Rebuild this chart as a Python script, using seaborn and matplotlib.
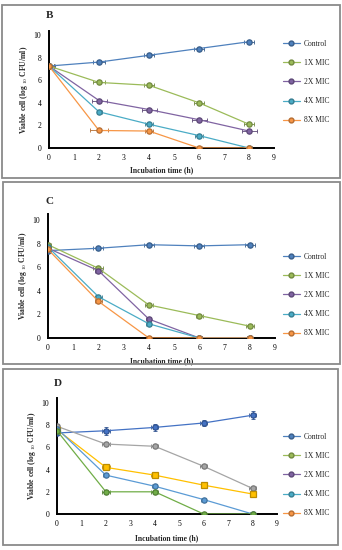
import matplotlib
matplotlib.use("Agg")
import matplotlib.pyplot as plt
import seaborn as sns
from matplotlib.lines import Line2D
from matplotlib.patches import Rectangle

# time points (h)
times = [0, 2, 4, 6, 8]
series_names = ["Control", "1X MIC", "2X MIC", "4X MIC", "8X MIC"]

# panel B
b_control = [7.25, 7.6, 8.2, 8.8, 9.4]
b_1x = [7.25, 5.8, 5.55, 4.0, 2.1]
b_2x = [7.25, 4.2, 3.4, 2.5, 1.5]
b_4x = [7.25, 3.2, 2.1, 1.1, 0.0]
b_8x = [7.25, 1.55, 1.5, 0.0, 0.0]
b_xerr = [[0.25, 0.25, 0.2, 0.2, 0.2],
          [0.2, 0.25, 0.2, 0.2, 0.2],
          [0.2, 0.3, 0.3, 0.3, 0.3],
          [0.2, 0.1, 0.15, 0.15, 0.1],
          [0.2, 0.35, 0.15, 0.1, 0.1]]

# panel C
c_control = [7.4, 7.6, 7.9, 7.8, 7.9]
c_1x = [7.9, 5.9, 2.8, 1.9, 1.0]
c_2x = [7.6, 5.7, 1.6, 0.0, 0.0]
c_4x = [7.7, 3.5, 1.2, 0.0, 0.0]
c_8x = [7.5, 3.1, 0.0, 0.0, 0.0]
c_xerr = [[0.1, 0.2, 0.2, 0.2, 0.2],
          [0.1, 0.2, 0.15, 0.15, 0.15],
          [0.1, 0.15, 0.1, 0.1, 0.1],
          [0.1, 0.15, 0.1, 0.1, 0.1],
          [0.1, 0.15, 0.1, 0.1, 0.1]]

# panel D
d_control = [7.3, 7.5, 7.8, 8.2, 8.9]
d_1x = [7.9, 6.3, 6.1, 4.3, 2.3]
d_2x = [7.6, 4.2, 3.5, 2.6, 1.8]
d_4x = [7.7, 3.5, 2.5, 1.3, 0.0]
d_8x = [7.5, 2.0, 2.0, 0.0, 0.0]
d_yerr = [[0.15, 0.35, 0.35, 0.3, 0.35],
          [0.05, 0.05, 0.05, 0.05, 0.05],
          [0.05, 0.05, 0.05, 0.05, 0.05],
          [0.05, 0.05, 0.05, 0.05, 0.05],
          [0.05, 0.05, 0.05, 0.05, 0.05]]
d_xerr = [[0.1, 0.15, 0.15, 0.15, 0.15],
          [0.1, 0.15, 0.15, 0.15, 0.15],
          [0.1, 0.15, 0.15, 0.1, 0.1],
          [0.1, 0.1, 0.1, 0.1, 0.1],
          [0.1, 0.15, 0.15, 0.1, 0.1]]

# colours
old_colors = ["#4f81bd", "#9bbb59", "#8064a2", "#4bacc6", "#f79646"]
old_edges = ["#385d8a", "#71893f", "#5c4776", "#357d91", "#b66d31"]
new_colors = ["#4472c4", "#a5a5a5", "#ffc000", "#5b9bd5", "#70ad47"]
new_edges = ["#2f528f", "#787878", "#bc8c00", "#41719c", "#507e32"]

sns.set_style("white")
plt.rcParams["font.family"] = ["Liberation Serif", "DejaVu Serif"]
plt.rcParams["mathtext.fontset"] = "custom"
plt.rcParams["mathtext.rm"] = "Liberation Serif"

fig = plt.figure(figsize=(3.42, 5.5), dpi=100)
W, H = 342, 550


def fx(px):
    return px / W


def fy(py):
    return 1 - py / H


panels = [
    dict(letter="B", data=[b_control, b_1x, b_2x, b_4x, b_8x], xerr=b_xerr, yerr=None,
         colors=old_colors, edges=old_edges, leg_colors=old_colors, leg_edges=old_edges,
         box=(2, 5, 340, 178), x0=49, x9=274, y0=148, ytop=31, ymax=10.35,
         letter_xy=(49, 16), xlabel_y=166, leg_y=46, leg_step=15.4),
    dict(letter="C", data=[c_control, c_1x, c_2x, c_4x, c_8x], xerr=c_xerr, yerr=None,
         colors=old_colors, edges=old_edges, leg_colors=old_colors, leg_edges=old_edges,
         box=(3, 182, 340, 364), x0=48, x9=275, y0=338, ytop=214, ymax=10.5,
         letter_xy=(49, 202), xlabel_y=357, leg_y=259, leg_step=15.4),
    dict(letter="D", data=[d_control, d_1x, d_2x, d_4x, d_8x], xerr=d_xerr, yerr=d_yerr,
         colors=new_colors, edges=new_edges, leg_colors=old_colors, leg_edges=old_edges,
         box=(3, 369, 338, 545), x0=57, x9=277, y0=514, ytop=398, ymax=10.45,
         letter_xy=(58, 383), xlabel_y=534, leg_y=439, leg_step=14.5),
]

for p in panels:
    bx0, by0, bx1, by1 = p["box"]
    fig.patches.append(Rectangle((fx(bx0), fy(by1)), fx(bx1 - bx0), (by1 - by0) / H,
                                 transform=fig.transFigure, fill=False,
                                 edgecolor="#8a8a8a", linewidth=1.3))
    ax = fig.add_axes([fx(p["x0"]), fy(p["y0"]), fx(p["x9"] - p["x0"]),
                       (p["y0"] - p["ytop"]) / H])
    for i, vals in enumerate(p["data"]):
        mk = "s" if (p["letter"] == "D" and i == 2) else "o"
        sns.lineplot(x=times, y=vals, ax=ax, color=p["colors"][i], linewidth=0.9,
                     marker=mk, markersize=3.8, markerfacecolor=p["colors"][i],
                     markeredgecolor=p["edges"][i], markeredgewidth=0.9, zorder=3 + i * 0.1)
        ye = p["yerr"][i] if p["yerr"] is not None else None
        ax.errorbar(times, vals, xerr=p["xerr"][i], yerr=ye, fmt="none",
                    ecolor=p["edges"][i], elinewidth=0.6, capsize=1.2, capthick=0.6, zorder=2)
    ax.set_xlim(0, 9)
    ax.set_ylim(0, p["ymax"])
    ax.set_xticks(range(0, 10))
    ax.set_yticks(range(0, 11, 2))
    for s in ["top", "right"]:
        ax.spines[s].set_visible(False)
    for s in ["left", "bottom"]:
        ax.spines[s].set_linewidth(1.4)
        ax.spines[s].set_color("black")
    ax.tick_params(direction="inout", length=4, width=1.1, labelsize=5.5,
                   colors="black")
    ax.tick_params(axis="y", pad=3.5)
    ax.tick_params(axis="x", pad=2)
    ax.set_facecolor("none")
    ax.set_xlabel("Incubation time (h)", fontsize=5.5, fontweight="bold", labelpad=0)
    ax.xaxis.set_label_coords(0.5, (p["y0"] - p["xlabel_y"]) / (p["y0"] - p["ytop"]))
    ax.set_ylabel(r"Viable cell (log $_{10}$ CFU/ml)", fontsize=5.5, fontweight="bold",
                  labelpad=3)
    fig.text(fx(p["letter_xy"][0]), fy(p["letter_xy"][1]), p["letter"], fontsize=8,
             fontweight="bold", ha="center", va="center")

    handles = [Line2D([0], [0], color=p["leg_colors"][i], linewidth=0.9, marker="o",
                      markersize=3.5, markerfacecolor=p["leg_colors"][i],
                      markeredgecolor=p["leg_edges"][i]) for i in range(5)]
    fig.legend(handles, series_names, loc="upper left",
               bbox_to_anchor=(fx(283), fy(p["leg_y"] - 6)), frameon=False,
               fontsize=5.5, handlelength=2.2, handletextpad=0.5,
               labelspacing=1.45, borderpad=0, borderaxespad=0)

fig.savefig("out.png", dpi=100)
